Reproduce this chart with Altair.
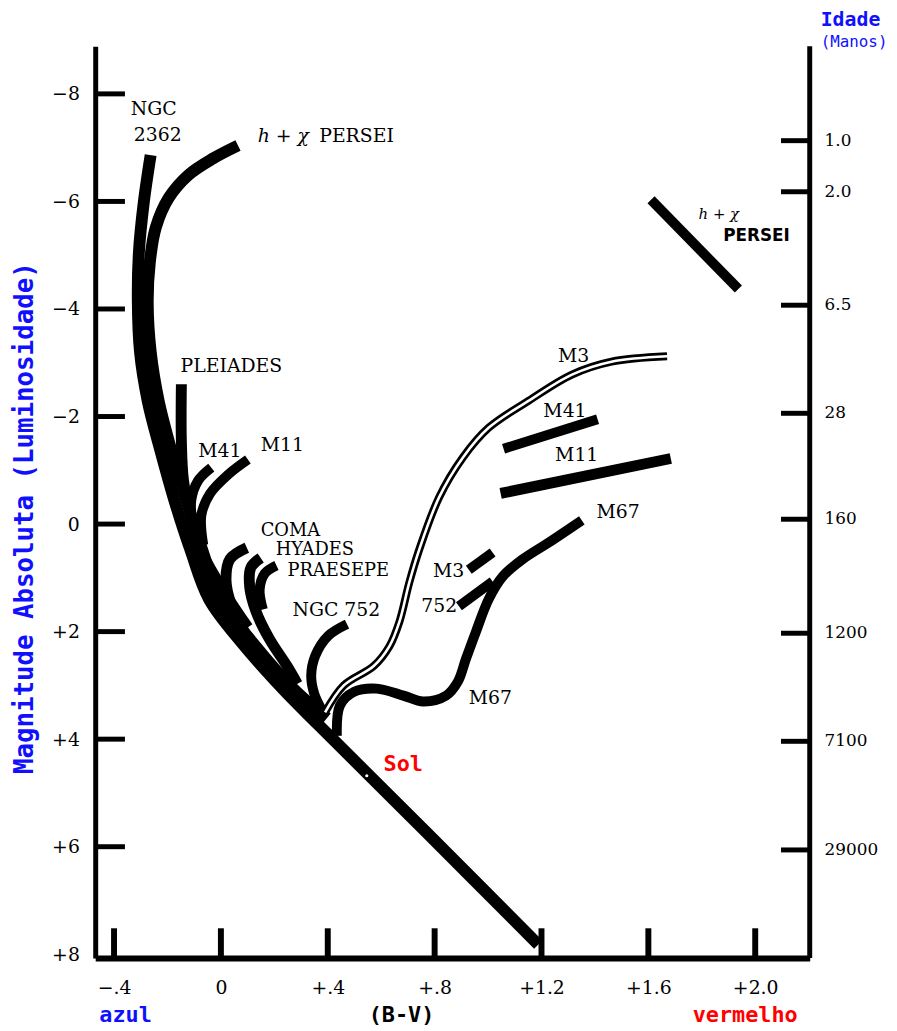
import altair as alt
import pandas as pd

# ---------------- scale extents (B-V and absolute magnitude) ----------------
X_DOMAIN = [-0.4705, 2.204]
Y_DOMAIN = [-8.885, 8.07]
W, H = 721, 920

# ---------------- axis ticks ----------------
mag_ticks = [-8, -6, -4, -2, 0, 2, 4, 6, 8]
mag_tick_labels = ["−8", "−6", "−4", "−2", "0", "+2", "+4", "+6", "+8"]
left_tick_marks = [-8, -6, -4, -2, 0, 2, 4, 6]
bv_ticks = [-0.4, 0.0, 0.4, 0.8, 1.2, 1.6, 2.0]
bv_tick_labels = ["−.4", "0", "+.4", "+.8", "+1.2", "+1.6", "+2.0"]
age_mag = [-7.13, -6.18, -4.07, -2.06, -0.09, 2.03, 4.04, 6.06]
age_labels = ["1.0", "2.0", "6.5", "28", "160", "1200", "7100", "29000"]

# ---------------- cluster sequences ----------------
ngc2362_bv = [-0.263, -0.289, -0.307, -0.311, -0.303, -0.274, -0.226, -0.174, -0.114, -0.044, 0.082, 0.231, 0.360, 0.769, 1.188]
ngc2362_mag = [-6.86, -5.97, -5.05, -4.13, -3.21, -2.29, -1.36, -0.44, 0.48, 1.40, 2.23, 3.06, 3.71, 5.73, 7.82]

hchi_bv = [0.064, -0.029, -0.122, -0.196, -0.244, -0.266, -0.274, -0.263, -0.233, -0.185, -0.129, -0.070, -0.003, 0.123, 0.271, 0.397]
hchi_mag = [-7.04, -6.80, -6.49, -6.06, -5.51, -4.87, -4.13, -3.21, -2.29, -1.36, -0.44, 0.48, 1.40, 2.23, 3.06, 3.61]

pleiades_bv = [-0.148, -0.148, -0.140, -0.114, -0.066, 0.019, 0.101]
pleiades_mag = [-2.60, -1.55, -0.81, -0.17, 0.57, 1.31, 1.92]

m41_bv = [-0.036, -0.085, -0.111, -0.103]
m41_mag = [-1.05, -0.81, -0.44, 0.11]

m11_bv = [0.101, 0.027, -0.040, -0.073, -0.066]
m11_mag = [-1.20, -0.92, -0.57, -0.17, 0.39]

coma_bv = [0.097, 0.034, 0.019, 0.038, 0.082, 0.157]
coma_mag = [0.44, 0.65, 1.03, 1.49, 1.95, 2.51]

hyades_bv = [0.149, 0.112, 0.108, 0.131, 0.182, 0.249, 0.286]
hyades_mag = [0.63, 0.81, 1.18, 1.62, 2.14, 2.65, 2.97]

praesepe_bv = [0.208, 0.164, 0.145, 0.157]
praesepe_mag = [0.77, 0.92, 1.22, 1.59]

ngc752_bv = [0.472, 0.401, 0.353, 0.338, 0.349, 0.379]
ngc752_mag = [1.86, 2.08, 2.45, 2.82, 3.15, 3.47]

m67_bv = [0.434, 0.446, 0.498, 0.583, 0.683, 0.757, 0.843, 0.887, 0.917, 0.954, 1.002, 1.054, 1.128, 1.225, 1.351]
m67_mag = [3.94, 3.37, 3.12, 3.06, 3.19, 3.30, 3.19, 2.93, 2.51, 2.01, 1.40, 0.98, 0.66, 0.35, -0.07]

m3_bv = [0.390, 0.460, 0.572, 0.631, 0.668, 0.705, 0.742, 0.817, 0.906, 1.002, 1.151, 1.314, 1.462, 1.670]
m3_mag = [3.50, 3.00, 2.64, 2.27, 1.82, 1.09, 0.48, -0.50, -1.24, -1.79, -2.29, -2.78, -3.02, -3.12]

# giant-branch bars
m3_bar_bv = [0.928, 1.017]
m3_bar_mag = [0.85, 0.53]
n752_bar_bv = [0.891, 1.017]
n752_bar_mag = [1.53, 1.07]
m41_bar_bv = [1.058, 1.410]
m41_bar_mag = [-1.40, -1.95]
m11_bar_bv = [1.047, 1.684]
m11_bar_mag = [-0.57, -1.22]
hchi_bar_bv = [1.610, 1.937]
hchi_bar_mag = [-6.03, -4.37]

sun_bv = [0.546]
sun_mag = [4.68]

# ---------------- labels ----------------
serif_text = ["NGC", "2362", "PERSEI", "PLEIADES", "M41", "M11", "NGC 752", "M3", "752",
              "M67", "M67", "M3", "M41", "M11"]
serif_bv = [-0.337, -0.326, 0.368, -0.151, -0.085, 0.149, 0.268, 0.794, 0.750,
            0.928, 1.406, 1.262, 1.207, 1.251]
serif_mag = [-7.72, -7.23, -7.21, -2.93, -1.36, -1.47, 1.60, 0.87, 1.53,
             3.24, -0.22, -3.12, -2.10, -1.29]

stack_text = ["COMA", "HYADES", "PRAESEPE"]
stack_bv = [0.149, 0.205, 0.249]
stack_mag = [0.13, 0.48, 0.87]

italic_text = ["h + χ"]
italic_bv = [0.138]
italic_mag = [-7.21]

italic_small_text = ["h + χ"]
italic_small_bv = [1.788]
italic_small_mag = [-5.77]

sans_text = ["PERSEI"]
sans_bv = [1.880]
sans_mag = [-5.36]

mono_text = ["Sol", "azul", "(B-V)", "vermelho"]
mono_bv = [0.609, -0.455, 0.553, 1.766]
mono_mag = [4.46, 9.14, 9.14, 9.14]
mono_color = ["#ff0000", "#1010ff", "#000000", "#ff0000"]

age_title_text = ["Idade"]
age_title_bv = [2.245]
age_title_mag = [-9.38]

small_text = ["(Manos)"]
small_bv = [2.245]
small_mag = [-8.97]

title_text = ["Magnitude Absoluta (Luminosidade)"]
title_bv = [-0.734]
title_mag = [-0.11]

# ---------------- styles ----------------
widths = {"ngc2362": 12, "hchi": 12, "pleiades": 11, "m41": 10, "m11": 10, "coma": 11,
          "hyades": 11, "praesepe": 10, "ngc752": 10, "m67": 10,
          "m3bar": 10, "n752bar": 10, "m41bar": 10, "m11bar": 11, "hchibar": 10}

curves = {
    "ngc2362": (ngc2362_bv, ngc2362_mag), "hchi": (hchi_bv, hchi_mag),
    "pleiades": (pleiades_bv, pleiades_mag), "m41": (m41_bv, m41_mag),
    "m11": (m11_bv, m11_mag), "coma": (coma_bv, coma_mag),
    "hyades": (hyades_bv, hyades_mag), "praesepe": (praesepe_bv, praesepe_mag),
    "ngc752": (ngc752_bv, ngc752_mag), "m67": (m67_bv, m67_mag),
    "m3bar": (m3_bar_bv, m3_bar_mag), "n752bar": (n752_bar_bv, n752_bar_mag),
    "m41bar": (m41_bar_bv, m41_bar_mag), "m11bar": (m11_bar_bv, m11_bar_mag),
    "hchibar": (hchi_bar_bv, hchi_bar_mag),
}

rows = []
for name, (bvs, mags) in curves.items():
    for i, (b, m) in enumerate(zip(bvs, mags)):
        rows.append({"curve": name, "order": i, "bv": b, "mag": m, "w": widths[name]})
lines_df = pd.DataFrame(rows)
m3_df = pd.DataFrame({"order": range(len(m3_bv)), "bv": m3_bv, "mag": m3_mag})


def chain_expr(values, labels):
    expr = "''"
    for v, lab in reversed(list(zip(values, labels))):
        expr = f"(abs(datum.value - ({v})) < 1e-6 ? '{lab}' : {expr})"
    return expr


SERIF = "DejaVu Serif, serif"
MONO = "DejaVu Sans Mono, monospace"
BLUE = "#1010ff"

xs = alt.Scale(domain=X_DOMAIN, nice=False, zero=False)
ys = alt.Scale(domain=Y_DOMAIN, nice=False, zero=False, reverse=True)

x_axis = alt.Axis(values=bv_ticks, labelExpr=chain_expr(bv_ticks, bv_tick_labels), ticks=False,
                  tickSize=0, domain=True, domainWidth=6, domainColor="black", grid=False, title=None,
                  labelFont=SERIF, labelFontSize=19, labelColor="black", labelPadding=21,
                  labelFlush=False, labelOverlap=False, labelBound=False)
y_axis = alt.Axis(values=mag_ticks, labelExpr=chain_expr(mag_ticks, mag_tick_labels), ticks=False,
                  tickSize=0, domain=True, domainWidth=5, domainColor="black", grid=False, title=None,
                  labelFont=SERIF, labelFontSize=19, labelColor="black", labelPadding=16,
                  labelFlush=False, labelOverlap=False, labelBound=False)

X = lambda: alt.X("bv:Q", scale=xs, axis=x_axis)
Y = lambda: alt.Y("mag:Q", scale=ys, axis=y_axis)


def text_layer(texts, bvs, mags, **style):
    base = dict(align="left", baseline="middle", color="black")
    base.update(style)
    return alt.Chart(pd.DataFrame({"t": texts, "bv": bvs, "mag": mags})).mark_text(**base).encode(
        x=X(), y=Y(), text="t:N")


serif_layer = text_layer(serif_text, serif_bv, serif_mag, font=SERIF, fontSize=19)
stack_layer = text_layer(stack_text, stack_bv, stack_mag, font=SERIF, fontSize=18)
italic_layer = text_layer(italic_text, italic_bv, italic_mag, font=SERIF, fontSize=19, fontStyle="italic")
italic_small_layer = text_layer(italic_small_text, italic_small_bv, italic_small_mag, font=SERIF,
                                fontSize=15, fontStyle="italic")
sans_layer = text_layer(sans_text, sans_bv, sans_mag, font="DejaVu Sans, sans-serif", fontSize=17,
                        fontWeight="bold")
age_title_layer = text_layer(age_title_text, age_title_bv, age_title_mag, font=MONO, fontSize=20,
                             fontWeight="bold", color=BLUE)
small_layer = text_layer(small_text, small_bv, small_mag, font=MONO, fontSize=16, color=BLUE)
title_layer = text_layer(title_text, title_bv, title_mag, font=MONO, fontSize=26, fontWeight="bold",
                         align="center", angle=270, color=BLUE)

mono_layer = alt.Chart(pd.DataFrame({"t": mono_text, "bv": mono_bv, "mag": mono_mag, "c": mono_color})).mark_text(
    font=MONO, fontSize=22, fontWeight="bold", align="left", baseline="middle"
).encode(x=X(), y=Y(), text="t:N", color=alt.Color("c:N", scale=None))

# curves
lines_layer = alt.Chart(lines_df).mark_line(
    color="black", strokeCap="butt", strokeJoin="round", interpolate="catmull-rom"
).encode(x=X(), y=Y(), detail="curve:N", order="order:Q",
         strokeWidth=alt.StrokeWidth("w:Q", scale=None))

m3_outer = alt.Chart(m3_df).mark_line(
    color="black", strokeWidth=8, strokeCap="butt", strokeJoin="round", interpolate="catmull-rom"
).encode(x=X(), y=Y(), order="order:Q")
m3_inner = alt.Chart(m3_df).mark_line(
    color="white", strokeWidth=2.6, strokeCap="butt", strokeJoin="round", interpolate="catmull-rom"
).encode(x=X(), y=Y(), order="order:Q")

sun_layer = alt.Chart(pd.DataFrame({"bv": sun_bv, "mag": sun_mag})).mark_point(
    filled=True, color="white", size=10, opacity=1
).encode(x=X(), y=Y())

# axis ticks (inward) and right-hand age scale
left_ticks = alt.Chart(pd.DataFrame({"mag": left_tick_marks})).mark_rule(color="black", strokeWidth=5).encode(
    y=Y(), x=alt.value(0), x2=alt.value(30))
bottom_ticks = alt.Chart(pd.DataFrame({"bv": bv_ticks})).mark_rule(color="black", strokeWidth=6).encode(
    x=X(), y=alt.value(H - 30), y2=alt.value(H))
right_line = alt.Chart(pd.DataFrame({"k": [0]})).mark_rule(color="black", strokeWidth=5).encode(
    x=alt.value(W), y=alt.value(0), y2=alt.value(H))
right_ticks = alt.Chart(pd.DataFrame({"mag": age_mag})).mark_rule(color="black", strokeWidth=5).encode(
    y=Y(), x=alt.value(W - 29), x2=alt.value(W))
right_labels = alt.Chart(pd.DataFrame({"mag": age_mag, "t": age_labels})).mark_text(
    font=SERIF, fontSize=17, align="left", baseline="middle", color="black", dx=15
).encode(y=Y(), x=alt.value(W), text="t:N")

chart = alt.layer(
    serif_layer, stack_layer, italic_layer, italic_small_layer, sans_layer, mono_layer,
    age_title_layer, small_layer, title_layer,
    lines_layer, m3_outer, m3_inner, sun_layer,
    left_ticks, bottom_ticks, right_line, right_ticks, right_labels,
).properties(
    width=W, height=H,
    padding={"left": 88, "top": 34, "right": 80, "bottom": 69},
    autosize=alt.AutoSizeParams(type="none"),
    background="white",
).configure_view(strokeWidth=0)

chart.save("out.html", embed_options={"renderer": "svg", "actions": False})
